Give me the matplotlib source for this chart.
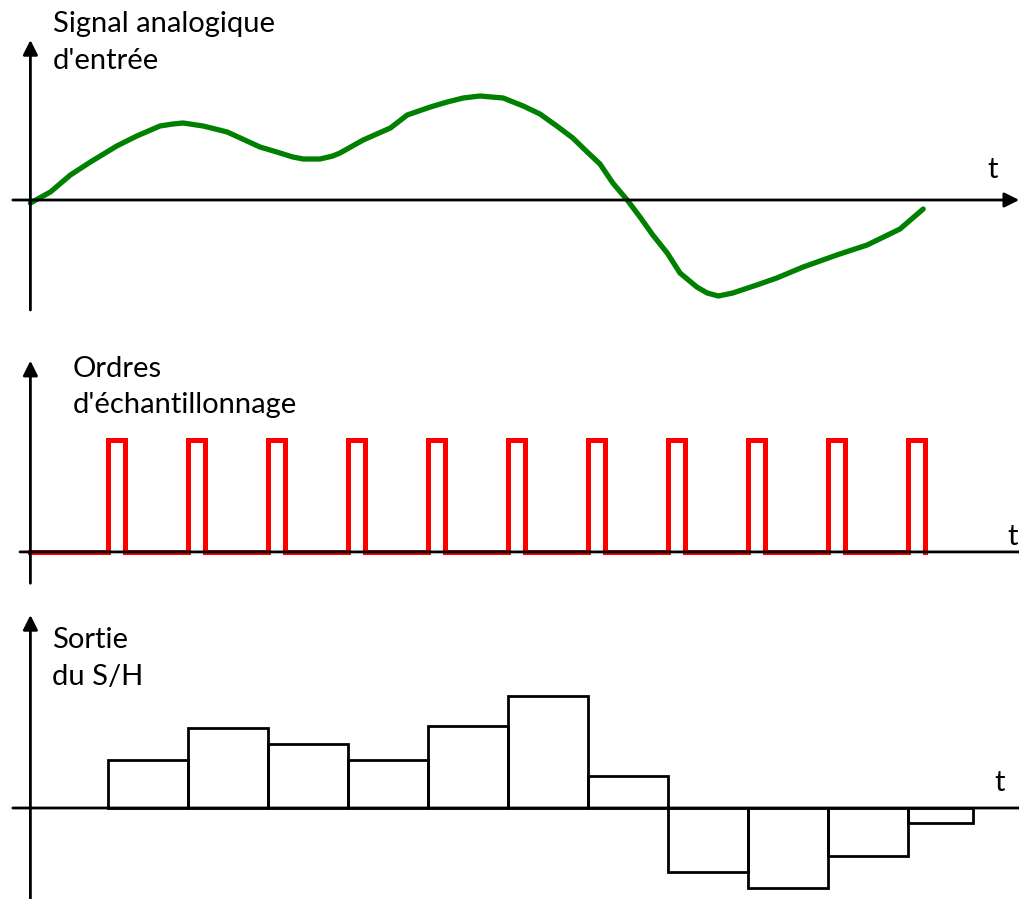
import numpy as np
import matplotlib.pyplot as plt

plt.rcParams['font.family'] = ['Lato', 'DejaVu Sans']

# input signal (time in sample periods, amplitude in arbitrary units)
sig_t = [0.03, 0.28, 0.53, 0.78, 1.11, 1.36, 1.65, 1.81, 1.94, 2.19, 2.49, 2.90,
         3.11, 3.31, 3.44, 3.65, 3.81, 3.90, 4.19, 4.53, 4.74, 5.03, 5.24, 5.44,
         5.65, 5.94, 6.19, 6.40, 6.61, 6.81, 6.99, 7.15, 7.31, 7.49, 7.65, 7.81,
         7.99, 8.15, 8.36, 8.49, 8.63, 8.81, 9.11, 9.36, 9.69, 10.11, 10.49,
         10.90, 11.19]
sig_v = [-0.03, 0.08, 0.25, 0.38, 0.54, 0.64, 0.74, 0.76, 0.77, 0.74, 0.68, 0.53,
         0.48, 0.43, 0.41, 0.41, 0.44, 0.47, 0.60, 0.72, 0.85, 0.93, 0.98, 1.02,
         1.04, 1.02, 0.94, 0.86, 0.74, 0.62, 0.48, 0.36, 0.17, 0.00, -0.17, -0.35,
         -0.53, -0.73, -0.87, -0.93, -0.96, -0.93, -0.85, -0.78, -0.67, -0.55,
         -0.45, -0.29, -0.09]

# sampling orders
sample_t = np.arange(1, 12)
pulse_width = 0.21

# sample and hold output
sh_vals = [0.48, 0.80, 0.64, 0.48, 0.82, 1.12, 0.32, -0.64, -0.80, -0.48, -0.15]
sh_width = [1, 1, 1, 1, 1, 1, 1, 1, 1, 1, 0.81]

W, H = 1020, 899
fig = plt.figure(figsize=(W / 100, H / 100), dpi=100)

xlim = (-0.35, 12.4)
arr = dict(arrowstyle='-|>', color='black', lw=2, mutation_scale=22,
           shrinkA=0, shrinkB=0)
line = dict(arrowstyle='-', color='black', lw=2, shrinkA=0, shrinkB=0)


def make_ax(top, bottom, ylim):
    ax = fig.add_axes([0, 1 - bottom / H, 1, (bottom - top) / H])
    ax.set_xlim(xlim)
    ax.set_ylim(ylim)
    ax.axis('off')
    return ax


def label(x, y1, y2, l1, l2):
    # two lines of text, placed by their baselines (pixels from top)
    fig.text(x / W, 1 - y1 / H, l1, fontsize=21, va='baseline', ha='left')
    fig.text(x / W, 1 - y2 / H, l2, fontsize=21, va='baseline', ha='left')


# ---- panel 1 : analog input
ax1 = make_ax(0, 330, (-1.3, 2.0))
ax1.annotate('', xy=(12.39, 0), xytext=(-0.19, 0), arrowprops=arr)
ax1.annotate('', xy=(0.03, 1.6), xytext=(0.03, -1.1), arrowprops=arr)
ax1.plot(sig_t, sig_v, color='#008000', lw=3.8, solid_joinstyle='round',
         solid_capstyle='round')
ax1.text(12.06, 0.3, 't', fontsize=21, ha='center', va='center')
label(53, 32, 69, "Signal analogique", "d'entrée")

# ---- panel 2 : sampling orders
ax2 = make_ax(335, 600, (-0.43, 1.94))
ax2.annotate('', xy=(12.4, 0), xytext=(-0.1, 0), arrowprops=line)
ax2.annotate('', xy=(0.03, 1.71), xytext=(0.03, -0.28), arrowprops=arr)
px, py = [0.03], [0]
for s in sample_t:
    px += [s, s, s + pulse_width, s + pulse_width]
    py += [0, 1, 1, 0]
ax2.plot(px, py, color='#ff0000', lw=3.6, solid_joinstyle='miter')
ax2.text(12.31, 0.13, 't', fontsize=21, ha='center', va='center')
label(73, 377, 413, "Ordres", "d'échantillonnage")

# ---- panel 3 : S/H output
ax3 = make_ax(605, 899, (-0.91, 2.03))
ax3.annotate('', xy=(12.4, 0), xytext=(-0.19, 0), arrowprops=line)
ax3.annotate('', xy=(0.03, 1.93), xytext=(0.03, -0.91), arrowprops=arr)
ax3.bar(sample_t, sh_vals, width=sh_width, align='edge', fill=False,
        edgecolor='black', lw=2)
ax3.text(12.15, 0.25, 't', fontsize=21, ha='center', va='center')
label(52, 648, 685, "Sortie", "du S/H")

fig.savefig('out.png', dpi=100)
